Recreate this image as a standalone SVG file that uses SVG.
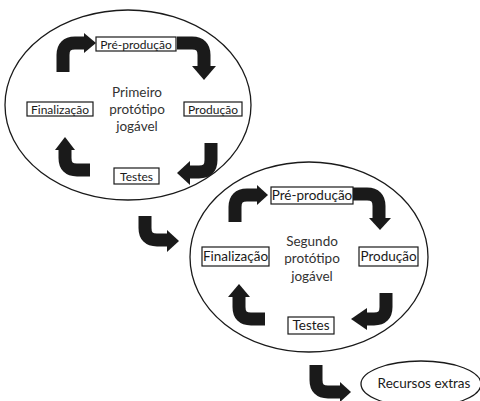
<svg xmlns="http://www.w3.org/2000/svg" width="480" height="401" viewBox="0 0 480 401">
<defs>
<style>
.ell{fill:none;stroke:#1a1a1a;stroke-width:1.3}
.box{fill:#fff;stroke:#1a1a1a;stroke-width:1.2}
.t{font-family:Lato,"Open Sans",sans-serif;fill:#1a1a1a;text-anchor:middle}
.s{font-size:12px}
.m{font-size:13.5px}
.c{fill:#333}
.arr{fill:none;stroke:#1a1a1a;stroke-width:13}
.head{fill:#1a1a1a}
</style>
</defs>
<rect width="480" height="401" fill="#fff"/>
<g id="cycle1">
<ellipse class="ell" cx="128" cy="105" rx="123" ry="95"/>
<text class="t m c" x="137" y="97">Primeiro</text>
<text class="t m c" x="137" y="114">protótipo</text>
<text class="t m c" x="137" y="131">jogável</text>
</g>
<g id="cycle2">
<ellipse class="ell" cx="309" cy="257" rx="119" ry="95"/>
<text class="t m c" x="312" y="246">Segundo</text>
<text class="t m c" x="312" y="263">protótipo</text>
<text class="t m c" x="312" y="281">jogável</text>
</g>
<g id="n1-pre"><rect class="box" x="96" y="37" width="80" height="14"/><text class="t s" x="136" y="48.5">Pré-produção</text></g>
<g id="n1-prod"><rect class="box" x="184" y="102" width="58" height="14"/><text class="t s" x="213" y="113.5">Produção</text></g>
<g id="n1-test"><rect class="box" x="114" y="168" width="45" height="16"/><text class="t s" x="136.5" y="180.5">Testes</text></g>
<g id="n1-fin"><rect class="box" x="27" y="102" width="66" height="14"/><text class="t s" x="60" y="113.5">Finalização</text></g>
<g id="n2-pre"><rect class="box" x="271" y="187" width="82" height="17"/><text class="t m" x="312" y="200">Pré-produção</text></g>
<g id="n2-prod"><rect class="box" x="359" y="247" width="59" height="19"/><text class="t m" x="388.5" y="261">Produção</text></g>
<g id="n2-test"><rect class="box" x="288" y="317" width="46" height="17"/><text class="t m" x="311" y="330">Testes</text></g>
<g id="n2-fin"><rect class="box" x="202" y="247" width="67" height="19"/><text class="t m" x="235.5" y="261">Finalização</text></g>
<g id="n3-extras"><ellipse class="ell" cx="421" cy="384" rx="60" ry="23"/><text class="t m" x="424" y="388">Recursos extras</text></g>
<g id="connectors">
<path class="arr" d="M63,72 V55 Q63,43 75,43 H85"/><polygon class="head" points="84,33 84,53 96,43"/>
<path class="arr" d="M177,43 H192 Q204,43 204,55 V67"/><polygon class="head" points="192,66 216,66 204,80"/>
<path class="arr" d="M211,143 V160 Q211,172 199,172 H189"/><polygon class="head" points="190,161 190,185 177,173"/>
<path class="arr" d="M90,170 H77 Q65,170 65,158 V149"/><polygon class="head" points="55,150 75,150 65,137"/>
<path class="arr" d="M235,222 V207 Q235,195 247,195 H258"/><polygon class="head" points="257,185 257,205 268,195"/>
<path class="arr" d="M353,194 H367 Q379,194 379,206 V219"/><polygon class="head" points="369,218 391,218 380,230"/>
<path class="arr" d="M386,293 V307 Q386,319 374,319 H366"/><polygon class="head" points="367,308 367,330 351,319"/>
<path class="arr" d="M265,319 H251 Q239,319 239,307 V296"/><polygon class="head" points="228,297 250,297 239,284"/>
<path class="arr" d="M145,216 V228 Q145,240 157,240 H168"/><polygon class="head" points="167,230 167,252 179,241"/>
<path class="arr" d="M316,365 V380 Q316,392 328,392 H341"/><polygon class="head" points="340,382 340,402 351,392"/>
</g>
</svg>
